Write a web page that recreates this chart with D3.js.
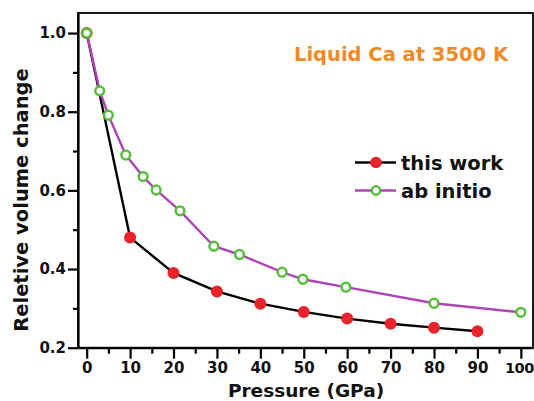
<!DOCTYPE html>
<html>
<head>
<meta charset="utf-8">
<script src="https://cdn.jsdelivr.net/npm/d3@7"></script>
<style>
  html, body { margin: 0; padding: 0; background: #fff; }
  svg { display: block; }
  text { font-family: "DejaVu Sans", sans-serif; font-weight: bold; }
</style>
</head>
<body>
<svg id="chart" width="534" height="401"></svg>
<script>
// Pressure (GPa) and relative volume V/V0 for liquid Ca at 3500 K
const thisWorkP = [0, 10, 20, 30, 40, 50, 60, 70, 80, 90];
const thisWorkV = [1.0, 0.48, 0.39, 0.343, 0.312, 0.291, 0.274, 0.261, 0.251, 0.242];

const abInitioP = [0, 3, 5, 9, 13, 16, 21.5, 29.3, 35.2, 45, 49.8, 59.7, 80, 100];
const abInitioV = [1.0, 0.853, 0.791, 0.69, 0.635, 0.601, 0.548, 0.458, 0.437, 0.392, 0.374, 0.354, 0.313, 0.29];

const xTicks = [0, 10, 20, 30, 40, 50, 60, 70, 80, 90, 100];
const yTicks = [0.2, 0.4, 0.6, 0.8, 1.0];

const seriesNames = ["this work", "ab initio"];
const chartTitle = "Liquid Ca at 3500 K";
const xTitle = "Pressure (GPa)";
const yTitle = "Reletive volume change";

const colors = { line1: "#000000", dot1: "#e8232a", line2: "#b043b3", dot2: "#55bf3b", title: "#f08a24" };

const svg = d3.select("#chart");
const box = { left: 78, right: 533, top: 13, bottom: 347.7 };

const x = d3.scaleLinear().domain([-2, 102.8]).range([box.left, box.right]);
const y = d3.scaleLinear().domain([0.2, 1.051]).range([box.bottom, box.top]);

// frame (top and right)
svg.append("rect")
  .attr("x", box.left).attr("y", box.top)
  .attr("width", box.right - box.left).attr("height", box.bottom - box.top)
  .attr("fill", "none").attr("stroke", "#000").attr("stroke-width", 1.8);

// minor ticks
const xMinor = d3.range(5, 100, 10);
const yMinor = [0.3, 0.5, 0.7, 0.9];

const xAxis = svg.append("g").attr("transform", `translate(0,${box.bottom})`)
  .call(d3.axisBottom(x).tickValues(xTicks).tickFormat(d3.format("d")).tickSizeInner(11).tickSizeOuter(0).tickPadding(4));
svg.append("g").attr("transform", `translate(0,${box.bottom})`)
  .call(d3.axisBottom(x).tickValues(xMinor).tickFormat("").tickSizeInner(6).tickSizeOuter(0))
  .select(".domain").remove();

const yAxis = svg.append("g").attr("transform", `translate(${box.left},0)`)
  .call(d3.axisLeft(y).tickValues(yTicks).tickFormat(d3.format(".1f")).tickSizeInner(10).tickSizeOuter(0).tickPadding(2));
svg.append("g").attr("transform", `translate(${box.left},0)`)
  .call(d3.axisLeft(y).tickValues(yMinor).tickFormat("").tickSizeInner(5).tickSizeOuter(0))
  .select(".domain").remove();

svg.selectAll(".domain").attr("stroke-width", 2.2);
svg.selectAll(".tick line").attr("stroke-width", 2.2);
svg.selectAll(".tick text").attr("font-size", 15).attr("fill", "#111");
// keep the last x label inside the right edge
xAxis.selectAll(".tick text").filter(d => d === 100)
  .attr("font-size", 14.5).attr("letter-spacing", -0.5).attr("dx", -2);

// axis titles
svg.append("text").attr("x", 306).attr("y", 397).attr("text-anchor", "middle")
  .attr("font-size", 18.5).attr("fill", "#111").text(xTitle);
svg.append("text").attr("transform", "translate(28,200) rotate(-90)").attr("text-anchor", "middle")
  .attr("font-size", 19.5).attr("fill", "#111").text(yTitle);

// series
const s1 = thisWorkP.map((p, i) => [p, thisWorkV[i]]);
const s2 = abInitioP.map((p, i) => [p, abInitioV[i]]);
const line = d3.line().x(d => x(d[0])).y(d => y(d[1]));

svg.append("path").datum(s1).attr("d", line)
  .attr("fill", "none").attr("stroke", colors.line1).attr("stroke-width", 2.4);
svg.append("path").datum(s2).attr("d", line)
  .attr("fill", "none").attr("stroke", colors.line2).attr("stroke-width", 2.4);

svg.append("g").selectAll("circle").data(s1).join("circle")
  .attr("cx", d => x(d[0])).attr("cy", d => y(d[1])).attr("r", 6)
  .attr("fill", colors.dot1);
svg.append("g").selectAll("circle").data(s2).join("circle")
  .attr("cx", d => x(d[0])).attr("cy", d => y(d[1])).attr("r", 4.4)
  .attr("fill", "#fff").attr("stroke", colors.dot2).attr("stroke-width", 2.5);

// title
svg.append("text").attr("x", 401).attr("y", 61).attr("text-anchor", "middle")
  .attr("font-size", 19.5).attr("fill", colors.title).text(chartTitle);

// legend
const legend = svg.append("g");
const rows = [
  { name: seriesNames[0], yy: 162.5, stroke: colors.line1, fill: colors.dot1, r: 5.8, sw: 0, ms: "none" },
  { name: seriesNames[1], yy: 190.5, stroke: colors.line2, fill: "#fff", r: 4.2, sw: 2.4, ms: colors.dot2 }
];
rows.forEach(r => {
  legend.append("line").attr("x1", 355).attr("x2", 396).attr("y1", r.yy).attr("y2", r.yy)
    .attr("stroke", r.stroke).attr("stroke-width", 2.6);
  legend.append("circle").attr("cx", 376).attr("cy", r.yy).attr("r", r.r)
    .attr("fill", r.fill).attr("stroke", r.ms).attr("stroke-width", r.sw);
  legend.append("text").attr("x", 401).attr("y", r.yy + 7).attr("font-size", 19.5)
    .attr("fill", "#111").text(r.name);
});
</script>
</body>
</html>
